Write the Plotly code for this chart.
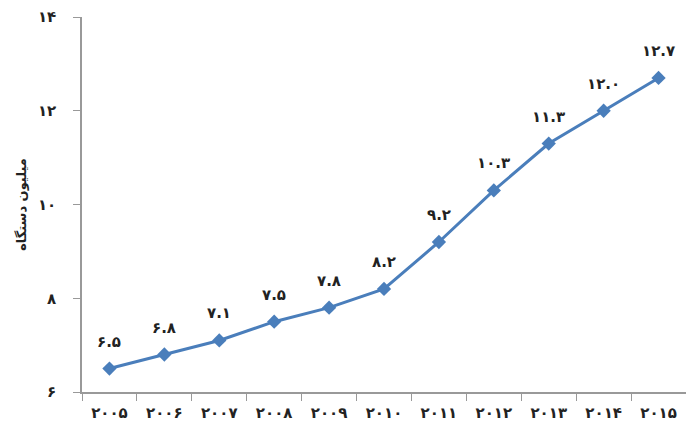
import plotly.graph_objects as go

def fa(s):
    return s.translate(str.maketrans("0123456789", "۰۱۲۳۴۵۶۷۸۹"))

years = ["2005", "2006", "2007", "2008", "2009", "2010", "2011", "2012", "2013", "2014", "2015"]
values = [6.5, 6.8, 7.1, 7.5, 7.8, 8.2, 9.2, 10.3, 11.3, 12.0, 12.7]
y_ticks = [6, 8, 10, 12, 14]
y_title = "میلیون دستگاه"

year_labels = [fa(y) for y in years]
value_labels = [fa(f"{v:.1f}") for v in values]

color = "#4A7EBB"
font_family = "DejaVu Sans"

fig = go.Figure()
fig.add_trace(go.Scatter(
    x=year_labels, y=values, mode="lines+markers",
    line=dict(color=color, width=3),
    marker=dict(symbol="diamond", size=11, color=color),
    hoverinfo="skip",
))
for xl, v, t in zip(year_labels, values, value_labels):
    fig.add_annotation(x=xl, y=v, text=t, showarrow=False, yshift=27,
                       font=dict(family=font_family, size=15, color="#222", weight="bold"))

fig.update_layout(
    width=686, height=442,
    margin=dict(l=82, r=0, t=17, b=50),
    paper_bgcolor="white", plot_bgcolor="white",
    showlegend=False,
    font=dict(family=font_family, size=12, color="#222"),
)
fig.update_xaxes(
    type="category", tickson="boundaries", ticks="outside", ticklen=7,
    tickcolor="#999", showline=True, linecolor="#999", linewidth=1.5,
    showgrid=False, tickfont=dict(family=font_family, size=15, weight="bold"),
    ticklabelstandoff=6,
    range=[-0.5, len(years) - 0.5],
)
fig.update_yaxes(
    range=[6, 14], tickvals=y_ticks, ticktext=[fa(str(t)) for t in y_ticks],
    ticks="outside", ticklen=7, tickcolor="#999",
    showline=True, linecolor="#999", linewidth=1.5, showgrid=False, zeroline=False,
    tickfont=dict(family=font_family, size=15, weight="bold"),
    ticklabelstandoff=14,
    title=dict(text=y_title, font=dict(family=font_family, size=13, weight="bold"), standoff=8),
)

fig.write_html("out.html")
